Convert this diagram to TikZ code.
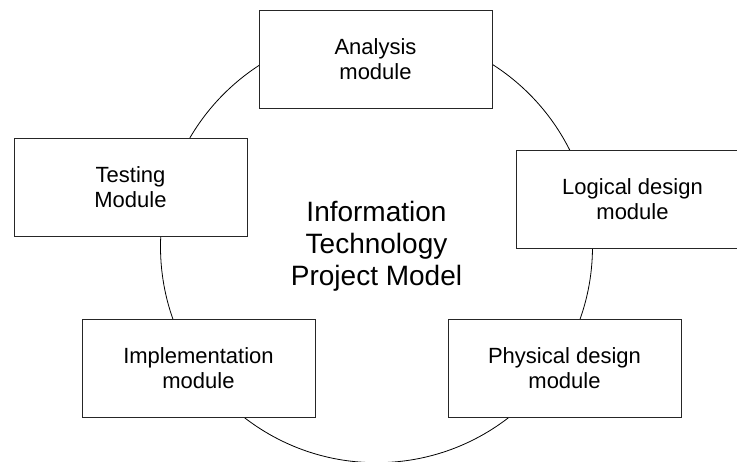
\documentclass[tikz,border=0pt]{standalone}
\usepackage{fontspec}
\setmainfont{Liberation Sans}

\begin{document}
\begin{tikzpicture}[x=1pt,y=-1pt,
  modbox/.style={draw=black!85,line width=1pt,fill=white,
    minimum width=233pt,minimum height=98pt,inner sep=0pt,
    align=center,font=\fontsize{22}{25}\selectfont}]
\useasboundingbox (0,0) rectangle (737,461);
\clip (0,0) rectangle (737,461);
% cycle behind the modules
\coordinate (mid) at (376.5,246.7);
\draw[line width=0.8pt] (mid) circle (216pt);
% modules
\node[modbox] (analysis) at (375.5,59) {Analysis\\module};
\node[modbox] (testing) at (130.5,187.5) {Testing\\Module};
\node[modbox] (logical) at (632.5,199) {Logical design\\module};
\node[modbox] (impl) at (198.5,368.5) {Implementation\\module};
\node[modbox] (physical) at (564.5,368.5) {Physical design\\module};
% title in the middle
\node[align=center,font=\fontsize{28}{32}\selectfont] (model) at (mid) {Information\\Technology\\Project Model};
\end{tikzpicture}
\end{document}
